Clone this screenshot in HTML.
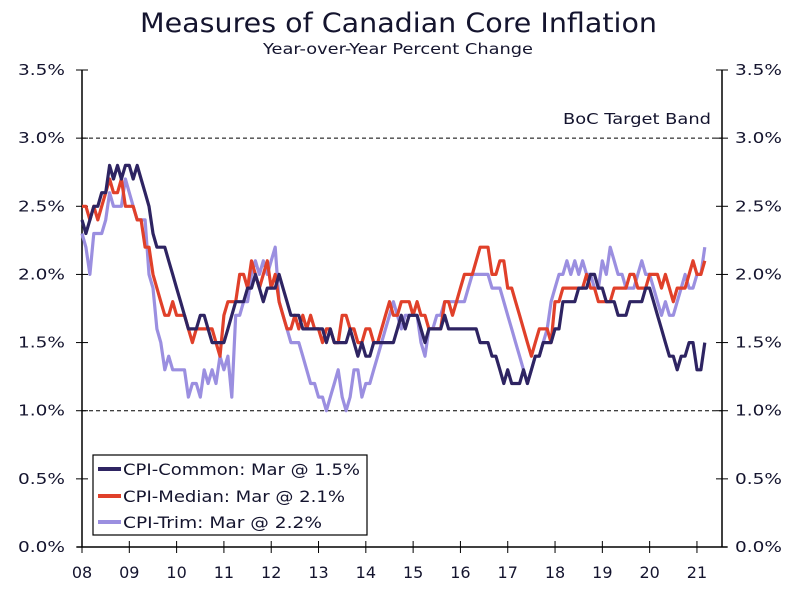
<!DOCTYPE html>
<html><head><meta charset="utf-8"><style>
body{margin:0;background:#fff;}
svg text{font-family:"DejaVu Sans","Liberation Sans",sans-serif;fill:#14142e;}
</style></head><body>
<svg id="chart" width="795" height="589" viewBox="0 0 795 589" xmlns="http://www.w3.org/2000/svg">
<text x="140" y="32" font-size="27" textLength="517" lengthAdjust="spacingAndGlyphs">Measures of Canadian Core Inflation</text>
<text x="263" y="54" font-size="15" textLength="270" lengthAdjust="spacingAndGlyphs">Year-over-Year Percent Change</text>
<g id="axes"></g>
<g id="series"></g>
<g>
<rect x="93" y="455" width="274" height="80" fill="#fff" stroke="#000" stroke-width="1.2"/>
<line x1="98" y1="469" x2="121" y2="469" stroke="#2e2462" stroke-width="4"/>
<text x="123" y="475" font-size="16" textLength="237" lengthAdjust="spacingAndGlyphs">CPI-Common: Mar @ 1.5%</text>
<line x1="98" y1="496" x2="121" y2="496" stroke="#e0402a" stroke-width="4"/>
<text x="123" y="502" font-size="16" textLength="222" lengthAdjust="spacingAndGlyphs">CPI-Median: Mar @ 2.1%</text>
<line x1="98" y1="522" x2="121" y2="522" stroke="#9b8fe0" stroke-width="4"/>
<text x="123" y="528" font-size="16" textLength="199" lengthAdjust="spacingAndGlyphs">CPI-Trim: Mar @ 2.2%</text>
</g>
</svg>
<script>
const yTicks=[0,0.5,1,1.5,2,2.5,3,3.5];
const yTickLabels=["0.0%","0.5%","1.0%","1.5%","2.0%","2.5%","3.0%","3.5%"];
const years=["08","09","10","11","12","13","14","15","16","17","18","19","20","21"];
const bandLevels=[1.0,3.0];
const common=[2.4,2.3,2.4,2.5,2.5,2.6,2.6,2.8,2.7,2.8,2.7,2.8,
2.8,2.7,2.8,2.7,2.6,2.5,2.3,2.2,2.2,2.2,2.1,2.0,
1.9,1.8,1.7,1.6,1.6,1.6,1.7,1.7,1.6,1.5,1.5,1.5,
1.5,1.6,1.7,1.8,1.8,1.8,1.9,1.9,2.0,1.9,1.8,1.9,
1.9,1.9,2.0,1.9,1.8,1.7,1.7,1.7,1.6,1.6,1.6,1.6,
1.6,1.6,1.5,1.6,1.5,1.5,1.5,1.5,1.6,1.5,1.4,1.5,
1.4,1.4,1.5,1.5,1.5,1.5,1.5,1.5,1.6,1.7,1.6,1.7,
1.7,1.7,1.6,1.5,1.6,1.6,1.6,1.6,1.7,1.6,1.6,1.6,
1.6,1.6,1.6,1.6,1.6,1.5,1.5,1.5,1.4,1.4,1.3,1.2,
1.3,1.2,1.2,1.2,1.3,1.2,1.3,1.4,1.4,1.5,1.5,1.5,
1.6,1.6,1.8,1.8,1.8,1.8,1.9,1.9,1.9,2.0,2.0,1.9,
1.9,1.8,1.8,1.8,1.7,1.7,1.7,1.8,1.8,1.8,1.8,1.9,
1.9,1.8,1.7,1.6,1.5,1.4,1.4,1.3,1.4,1.4,1.5,1.5,
1.3,1.3,1.5];
const median=[2.5,2.5,2.4,2.5,2.4,2.5,2.6,2.7,2.6,2.6,2.7,2.5,
2.5,2.5,2.4,2.4,2.2,2.2,2.0,1.9,1.8,1.7,1.7,1.8,
1.7,1.7,1.7,1.6,1.5,1.6,1.6,1.6,1.6,1.6,1.5,1.4,
1.7,1.8,1.8,1.8,2.0,2.0,1.9,2.1,2.0,1.9,2.0,2.1,
1.9,2.0,1.8,1.7,1.6,1.6,1.7,1.6,1.7,1.6,1.7,1.6,
1.6,1.5,1.6,1.6,1.5,1.5,1.7,1.7,1.6,1.6,1.5,1.5,
1.6,1.6,1.5,1.5,1.6,1.7,1.8,1.7,1.7,1.8,1.8,1.8,
1.7,1.8,1.7,1.7,1.6,1.6,1.6,1.6,1.8,1.8,1.7,1.8,
1.9,2.0,2.0,2.0,2.1,2.2,2.2,2.2,2.0,2.0,2.1,2.1,
1.9,1.9,1.8,1.7,1.6,1.5,1.4,1.5,1.6,1.6,1.6,1.5,
1.8,1.8,1.9,1.9,1.9,1.9,1.9,1.9,2.0,1.9,1.9,1.8,
1.8,1.8,1.8,1.9,1.9,1.9,1.9,2.0,2.0,1.9,1.9,1.9,
2.0,2.0,2.0,1.9,2.0,1.9,1.8,1.9,1.9,1.9,2.0,2.1,
2.0,2.0,2.1];
const trim=[2.3,2.2,2.0,2.3,2.3,2.3,2.4,2.6,2.5,2.5,2.5,2.7,
2.6,2.5,2.4,2.4,2.4,2.0,1.9,1.6,1.5,1.3,1.4,1.3,
1.3,1.3,1.3,1.1,1.2,1.2,1.1,1.3,1.2,1.3,1.2,1.4,
1.3,1.4,1.1,1.7,1.7,1.8,1.8,2.0,2.1,2.0,2.1,2.0,
2.1,2.2,1.8,1.7,1.6,1.5,1.5,1.5,1.4,1.3,1.2,1.2,
1.1,1.1,1.0,1.1,1.2,1.3,1.1,1.0,1.1,1.3,1.3,1.1,
1.2,1.2,1.3,1.4,1.5,1.6,1.7,1.8,1.7,1.6,1.7,1.7,
1.7,1.7,1.5,1.4,1.6,1.6,1.7,1.7,1.8,1.8,1.8,1.8,
1.8,1.8,1.9,2.0,2.0,2.0,2.0,2.0,1.9,1.9,1.9,1.8,
1.7,1.6,1.5,1.4,1.3,1.2,1.3,1.4,1.4,1.5,1.6,1.8,
1.9,2.0,2.0,2.1,2.0,2.1,2.0,2.1,2.0,2.0,1.9,1.9,
2.1,2.0,2.2,2.1,2.0,2.0,1.9,1.9,1.9,2.0,2.1,2.0,
2.0,1.9,1.8,1.7,1.8,1.7,1.7,1.8,1.9,2.0,1.9,1.9,
2.0,2.0,2.2];
const X0=82,X1=722,Y0=547,YTOP=70,PXM=3.942;
const yScale=v=>Y0-v*(Y0-YTOP)/3.5;
const xScale=i=>X0+i*PXM;
const NS="http://www.w3.org/2000/svg";
function mk(tag,attrs,parent){const e=document.createElementNS(NS,tag);for(const k in attrs)e.setAttribute(k,attrs[k]);parent.appendChild(e);return e;}
const axes=document.getElementById('axes');
bandLevels.forEach(b=>{
  const l=mk('line',{x1:X0,x2:X1,y1:yScale(b),y2:yScale(b),stroke:'#000','stroke-width':1,'stroke-dasharray':'4,3'},axes);
  
  
});
const bt=mk('text',{x:563,y:124,'font-size':15,textLength:148,lengthAdjust:'spacingAndGlyphs'},axes);bt.textContent='BoC Target Band';


const la=mk('line',{x1:X0,x2:X0,y1:YTOP,y2:Y0,stroke:'#000','stroke-width':1.5},axes);


const ra=mk('line',{x1:X1,x2:X1,y1:YTOP,y2:Y0,stroke:'#000','stroke-width':1.5},axes);


const xa=mk('line',{x1:X0-5,x2:X1+5,y1:Y0,y2:Y0,stroke:'#000','stroke-width':1.5},axes);


yTicks.forEach((v,k)=>{
  const y=yScale(v);
  mk('line',{x1:X0-6,x2:X0+6,y1:y,y2:y,stroke:'#000','stroke-width':1},axes);
  mk('line',{x1:X1-6,x2:X1+6,y1:y,y2:y,stroke:'#000','stroke-width':1},axes);
  const t=mk('text',{x:18,y:y+5,'font-size':15,textLength:47,lengthAdjust:'spacingAndGlyphs'},axes);t.textContent=yTickLabels[k];
  
  
  const t2=mk('text',{x:735,y:y+5,'font-size':15,textLength:47,lengthAdjust:'spacingAndGlyphs'},axes);t2.textContent=yTickLabels[k];
  
  
});
years.forEach((yr,k)=>{
  const x=xScale(k*12);
  mk('line',{x1:x,x2:x,y1:Y0-6,y2:Y0+6,stroke:'#000','stroke-width':1},axes);
  const t=mk('text',{x:x,y:578,'font-size':16,'text-anchor':'middle'},axes);t.textContent=yr;
  
  
});
const sg=document.getElementById('series');
[[trim,'#9b8fe0','trim-line'],[median,'#e0402a','median-line'],[common,'#2e2462','common-line']].forEach(([d,c,n])=>{
  const p=mk('polyline',{points:d.map((v,i)=>xScale(i).toFixed(1)+','+yScale(v).toFixed(1)).join(' '),fill:'none',stroke:c,'stroke-width':3.2,'stroke-linejoin':'round'},sg);
  
  
});
</script>
</body></html>
